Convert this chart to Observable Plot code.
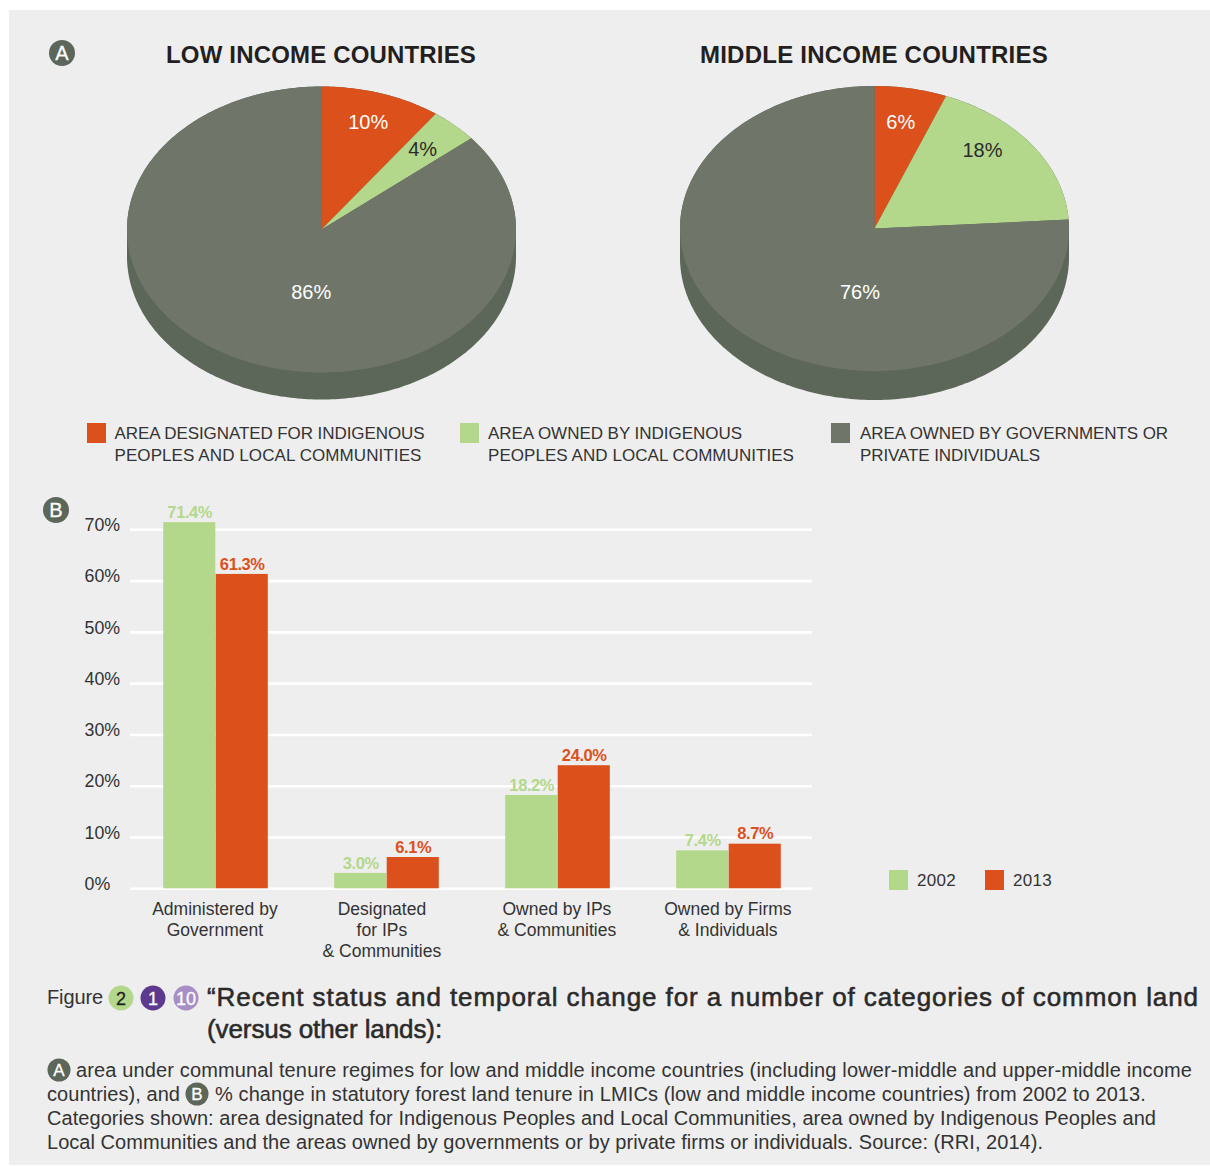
<!DOCTYPE html>
<html><head><meta charset="utf-8">
<script src="https://cdn.jsdelivr.net/npm/d3@7"></script>
<script src="https://cdn.jsdelivr.net/npm/@observablehq/plot@0.6"></script>
<style>
html,body{margin:0;padding:0;background:#fff;}
body{width:1210px;height:1166px;position:relative;overflow:hidden;font-family:"Liberation Sans",Arial,sans-serif;color:#2b2b2b;}
#panel{position:absolute;left:9px;top:10px;width:1201px;height:1155px;background:#eeeeee;}
.t{position:absolute;white-space:nowrap;line-height:1;transform:translateY(-50%);}
.h{font-weight:bold;font-size:24px;color:#231f20;}
.l{font-size:17px;color:#333;}
.cap{font-size:20px;color:#333;}
.ttl{font-size:26px;color:#2a2a2a;-webkit-text-stroke:.55px #2a2a2a;}
.sw{position:absolute;width:19px;height:20px;}
.b{position:absolute;border-radius:50%;display:flex;align-items:center;justify-content:center;line-height:1;transform:translate(-50%,-50%);-webkit-text-stroke:.3px currentColor;}
.svgbox{position:absolute;}
.svgbox svg{display:block;background:transparent;overflow:visible;}
.barlabel text{letter-spacing:-.4px;}
</style></head>
<body>
<div id="panel"></div>
<div id="page"></div>
<script>
// ---------- data ----------
const sliceNames = ["Designated", "Owned by IPLC", "Government or private"];
const lowIncome = [10, 4, 86];
const middleIncome = [6, 18, 76];
const years = ["2002", "2013"];
const categories = ["Administered by\nGovernment", "Designated\nfor IPs\n& Communities", "Owned by IPs\n& Communities", "Owned by Firms\n& Individuals"];
const values2002 = [71.4, 3.0, 18.2, 7.4];
const values2013 = [61.3, 6.1, 24.0, 8.7];
const yTicks = [0, 10, 20, 30, 40, 50, 60, 70];

// ---------- palette ----------
const ORANGE = "#db501b", GREEN = "#b3d88b", GREY = "#6f7669", SIDE = "#5c6659", INK = "#333333";
const page = document.getElementById("page");

function box(node, left, top) {
  const d = document.createElement("div");
  d.className = "svgbox"; d.style.left = left + "px"; d.style.top = top + "px";
  d.appendChild(node); page.appendChild(d);
}
// text line; w = target pixel width reached through letter-spacing
function line(cls, x, y, text, w) {
  const d = document.createElement("div");
  d.className = "t " + cls; d.style.left = x + "px"; d.style.top = y + "px"; d.textContent = text;
  page.appendChild(d);
  if (w) {
    const n = d.getBoundingClientRect().width;
    d.style.letterSpacing = ((w - n) / text.length).toFixed(3) + "px";
  }
}
function swatch(x, y, color) {
  const d = document.createElement("div");
  d.className = "sw"; d.style.left = x + "px"; d.style.top = y + "px"; d.style.background = color;
  page.appendChild(d);
}
function badge(x, y, txt, bg, fg, size, fs) {
  const d = document.createElement("div");
  d.className = "b"; d.textContent = txt;
  Object.assign(d.style, {left:x+"px", top:y+"px", width:size+"px", height:size+"px", background:bg, color:fg, fontSize:fs+"px"});
  page.appendChild(d);
}

// ---------- pies ----------
function pie(values, labelMarks, cx, cy, rx, ry, depth) {
  const W = 440, H = 340;
  const pts = [];
  let acc = 0;
  values.forEach((v, i) => {
    pts.push({slice: sliceNames[i], a: 0, r: 0});
    for (let p = acc; p <= acc + v + 1e-9; p += 0.25) pts.push({slice: sliceNames[i], a: p * Math.PI / 50, r: 1});
    acc += v;
  });
  // side of the disc: upper half of the top ellipse, lower half of the shifted one
  const side = [];
  for (let d = 90; d <= 270; d += 1) side.push({u: Math.sin(d * Math.PI / 180), v: Math.cos(d * Math.PI / 180) - depth / ry});
  for (let d = 270; d <= 450; d += 1) side.push({u: Math.sin(d * Math.PI / 180), v: Math.cos(d * Math.PI / 180)});
  return Plot.plot({
    width: W, height: H, margin: 0, axis: null,
    style: {background: "transparent", fontFamily: '"Liberation Sans",Arial,sans-serif'},
    x: {domain: [-1, 1], range: [cx - rx, cx + rx]},
    y: {domain: [-1, 1], range: [cy + ry, cy - ry]},
    color: {domain: sliceNames, range: [ORANGE, GREEN, GREY]},
    marks: [
      Plot.line(side, {x: "u", y: "v", fill: SIDE, stroke: "none"}),
      Plot.line(pts, {x: d => d.r * Math.sin(d.a), y: d => d.r * Math.cos(d.a), z: "slice", fill: "slice", stroke: "none"}),
      Plot.text(labelMarks, {x: "u", y: "v", text: "text", fill: "fill", fontSize: 20})
    ]
  });
}
const lowLabels = [
  {text: lowIncome[0] + "%", u: 0.24, v: 0.75, fill: "#ffffff"},
  {text: lowIncome[1] + "%", u: 0.52, v: 0.56, fill: "#2b2b2b"},
  {text: lowIncome[2] + "%", u: -0.053, v: -0.44, fill: "#ffffff"}
];
const midLabels = [
  {text: middleIncome[0] + "%", u: 0.135, v: 0.74, fill: "#ffffff"},
  {text: middleIncome[1] + "%", u: 0.555, v: 0.55, fill: "#2b2b2b"},
  {text: middleIncome[2] + "%", u: -0.075, v: -0.45, fill: "#ffffff"}
];
box(pie(lowIncome, lowLabels, 220, 149, 194.5, 143, 27), 101, 80);
box(pie(middleIncome, midLabels, 220, 148, 194.5, 142.5, 29), 653.5, 80);

// ---------- bars ----------
const rows = (vals) => categories.map((c, i) => ({category: c, value: vals[i]}));
const FONT = '"Liberation Sans",Arial,sans-serif';
const barW = 52.5, band = 171.4;
const outer = band / 2 - barW;
const inner = band / 2;
const otherCats = categories.filter(c => !c.startsWith("Designated"));
const axisOpts = {anchor: "bottom", label: null, tickSize: 0, tickPadding: 11, fontSize: 17.5, lineHeight: 1.2, fill: INK};
const bars = Plot.plot({
  width: 840, height: 480,
  marginLeft: 130, marginRight: 28, marginTop: 0, marginBottom: 81,
  style: {background: "transparent", fontFamily: FONT, color: INK},
  x: {domain: categories, range: [129.1, 814.7], padding: 0, axis: null},
  y: {domain: [0, 70], range: [398.3, 39.3], axis: null},
  marks: [
    Plot.ruleY(yTicks, {stroke: "#ffffff", strokeWidth: 2.6}),
    Plot.axisY(yTicks, {anchor: "left", label: null, tickSize: 0, tickPadding: 46, textAnchor: "start", dy: -4.5, fontSize: 17.8, fill: INK, tickFormat: d => d + "%"}),
    Plot.axisX(otherCats, {...axisOpts, dx: -1.1}),
    Plot.axisX(categories.filter(c => c.startsWith("Designated")), {...axisOpts, dx: -5.1}),
    Plot.barY(rows(values2002), {x: "category", y: "value", fill: GREEN, insetLeft: outer, insetRight: inner}),
    Plot.barY(rows(values2013), {x: "category", y: "value", fill: ORANGE, insetLeft: inner, insetRight: outer}),
    Plot.text(rows(values2002), {x: "category", y: "value", text: d => d.value.toFixed(1) + "%", dx: -barW / 2, dy: -10, fill: GREEN, fontSize: 16.5, fontWeight: "bold", className: "barlabel"}),
    Plot.text(rows(values2013), {x: "category", y: "value", text: d => d.value.toFixed(1) + "%", dx: barW / 2, dy: -10, fill: ORANGE, fontSize: 16.5, fontWeight: "bold", className: "barlabel"})
  ]
});
box(bars, 0, 490);

// ---------- titles, legends ----------
badge(62, 53, "A", SIDE, "#fff", 26, 20);
badge(56, 510, "B", SIDE, "#fff", 26, 20);
line("h", 166, 55, "LOW INCOME COUNTRIES", 310);
line("h", 700, 55, "MIDDLE INCOME COUNTRIES", 348);

swatch(87, 423, ORANGE); swatch(460, 423, GREEN); swatch(831, 423, GREY);
line("l", 114.5, 433, "AREA DESIGNATED FOR INDIGENOUS", 310);
line("l", 114.5, 455, "PEOPLES AND LOCAL COMMUNITIES", 307);
line("l", 488, 433, "AREA OWNED BY INDIGENOUS", 254);
line("l", 488, 455, "PEOPLES AND LOCAL COMMUNITIES", 306);
line("l", 860, 433, "AREA OWNED BY GOVERNMENTS OR", 308);
line("l", 860, 455, "PRIVATE INDIVIDUALS", 180);

swatch(889, 870, GREEN); swatch(985, 870, ORANGE);
line("l", 917, 880, years[0], 39); line("l", 1013, 880, years[1], 39);

// ---------- caption ----------
line("cap", 47, 997, "Figure", 56);
badge(121, 998, "2", GREEN, "#222", 25, 18);
badge(153, 998, "1", "#5e3a8e", "#fff", 25, 18);
badge(186, 998, "10", "#a78fc6", "#fff", 25, 18);
line("ttl", 207, 997, "“Recent status and temporal change for a number of categories of common land", 992);
line("ttl", 207, 1029, "(versus other lands):", 235);
badge(59, 1070, "A", SIDE, "#fff", 23, 17);
line("cap", 76, 1070, "area under communal tenure regimes for low and middle income countries (including lower-middle and upper-middle income", 1116);
line("cap", 47, 1094, "countries), and", 133);
badge(197, 1094, "B", SIDE, "#fff", 23, 17);
line("cap", 215, 1094, "% change in statutory forest land tenure in LMICs (low and middle income countries) from 2002 to 2013.", 931);
line("cap", 47, 1118, "Categories shown: area designated for Indigenous Peoples and Local Communities, area owned by Indigenous Peoples and", 1109);
line("cap", 47, 1142, "Local Communities and the areas owned by governments or by private firms or individuals. Source: (RRI, 2014).", 996);
</script>
</body></html>
